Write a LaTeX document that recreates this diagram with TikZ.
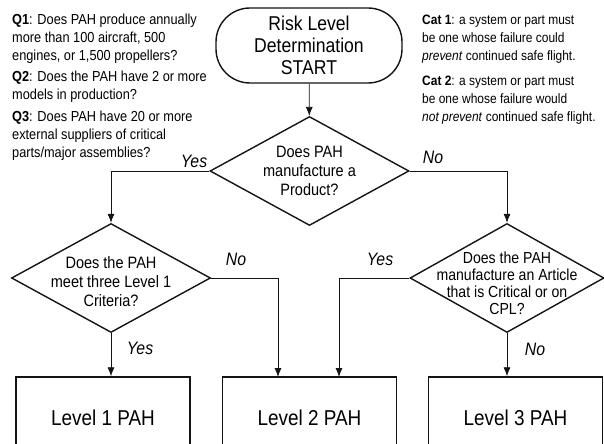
\documentclass[tikz,border=0pt]{standalone}
\usepackage{fontspec}
\setmainfont{Liberation Sans}[FakeStretch=0.88]
\usepackage{tikz}
\usetikzlibrary{arrows.meta,shapes,positioning,calc}
\definecolor{flowgray}{RGB}{20,20,20}
\tikzstyle{arrow} = [-{Latex[length=9bp,width=7bp]},color=flowgray,line width=0.8bp]
\tikzstyle{startstop} = [rectangle, rounded corners=34bp, draw=flowgray, line width=1.4bp, minimum width=186bp, minimum height=75bp, align=center, font=\fontsize{20bp}{22bp}\selectfont]
\tikzstyle{decision} = [diamond, draw=flowgray, line width=1.4bp, minimum width=199bp, minimum height=109bp, inner sep=0pt]
\tikzstyle{dtext} = [align=center, inner sep=0pt, font=\fontsize{16.5bp}{19bp}\selectfont]
\tikzstyle{levelbox} = [rectangle, draw=flowgray, line width=1.4bp, minimum width=174bp, minimum height=82bp, font=\fontsize{21.5bp}{24bp}\selectfont]
\tikzstyle{answer} = [inner sep=0pt, font=\fontsize{18bp}{20bp}\selectfont\itshape]
\tikzstyle{notes} = [align=left, anchor=north west, inner sep=0pt, font=\fontsize{14.5bp}{18bp}\selectfont]

\begin{document}
\begin{tikzpicture}[x=1bp, y=-1bp]
\useasboundingbox (0,0) rectangle (604,444);

\node[startstop] (start) at (309,45.5) {Risk Level\\Determination\\START};
\node[decision, label={[dtext]center:Does PAH\\manufacture a\\Product?}] (d1) at (309.5,171) {};
\node[decision, label={[dtext,yshift=-4bp]center:Does the PAH\\meet three Level 1\\Criteria?}] (d2) at (111,278) {};
\node[decision, minimum width=194bp, label={[dtext,yshift=-5bp,font=\fontsize{16bp}{17bp}\selectfont]center:Does the PAH\\manufacture an Article\\that is Critical or on\\CPL?}] (d3) at (507,278) {};

\node[levelbox] (b1) at (103,418) {Level 1 PAH};
\node[levelbox] (b2) at (309.5,418) {Level 2 PAH};
\node[levelbox] (b3) at (515.5,418) {Level 3 PAH};
\coordinate (in2l) at (278,377);
\coordinate (in2r) at (339,377);

\draw[arrow] (start) -- (d1);
\draw[arrow] (d1.west) -| (d2.north);
\draw[arrow] (d1.east) -| (d3.north);
\draw[arrow] (d2.south) -- (d2.south |- b1.north);
\draw[arrow] (d2.east) -| (in2l);
\draw[arrow] (d3.west) -| (in2r);
\draw[arrow] (d3.south) -- (d3.south |- b3.north);

\node[answer] (y1) at (194,161) {Yes};
\node[answer] (n1) at (433,157) {No};
\node[answer] (n2) at (236,259) {No};
\node[answer] (y2) at (140,348) {Yes};
\node[answer] (y3) at (380,259) {Yes};
\node[answer] (n3) at (535,349) {No};

% criteria and category notes
\node[notes] (qnotes) at (12,14) {\textbf{Q1}: Does PAH produce annually\\more than 100 aircraft, 500\\engines, or 1,500 propellers?\\[3bp]\textbf{Q2}: Does the PAH have 2 or more\\models in production?\\[4bp]\textbf{Q3}: Does PAH have 20 or more\\external suppliers of critical\\parts/major assemblies?};
\node[notes, font=\fontsize{13.6bp}{18bp}\selectfont] (catnotes) at (422,15) {\textbf{Cat 1}: a system or part must\\be one whose failure could\\\textit{prevent} continued safe flight.\\[7bp]\textbf{Cat 2}: a system or part must\\be one whose failure would\\\textit{not prevent} continued safe flight.};
\end{tikzpicture}
\end{document}
